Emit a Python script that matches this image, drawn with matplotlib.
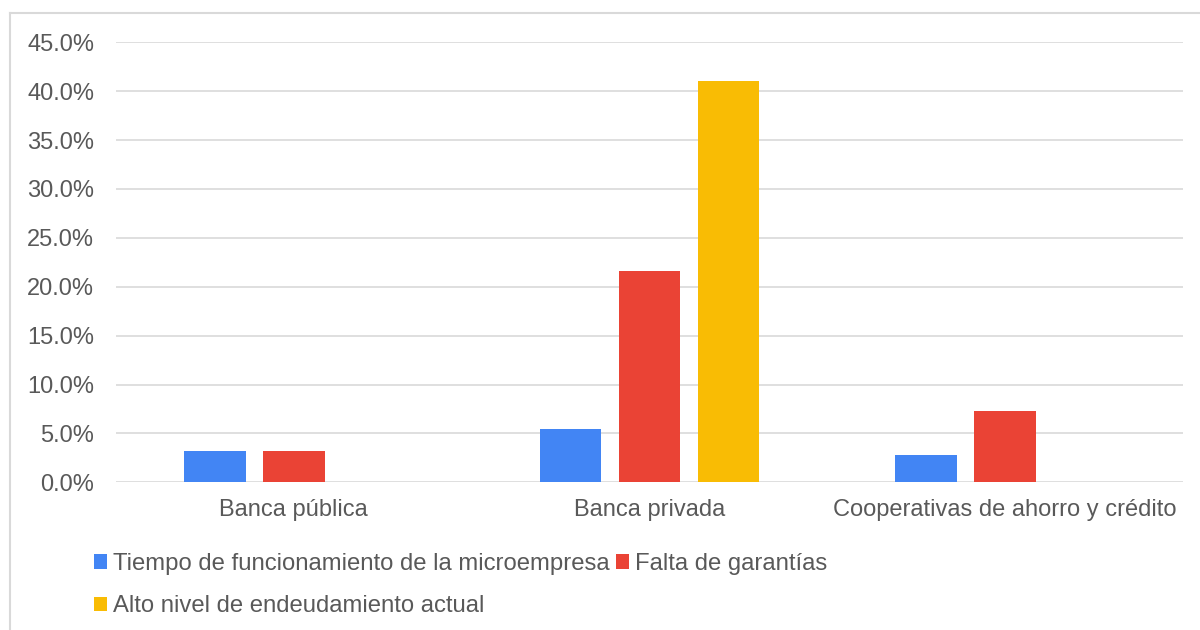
import matplotlib
matplotlib.use("Agg")
import matplotlib.pyplot as plt
from matplotlib.patches import Patch
from matplotlib.lines import Line2D
from matplotlib.ticker import FuncFormatter, MultipleLocator
import numpy as np

categories = ["Banca pública", "Banca privada", "Cooperativas de ahorro y crédito"]
series_names = ["Tiempo de funcionamiento de la microempresa",
                "Falta de garantías",
                "Alto nivel de endeudamiento actual"]
tiempo = [0.032, 0.054, 0.028]
garantias = [0.032, 0.216, 0.073]
endeudamiento = [0.0, 0.410, 0.0]
colors = ["#4285F4", "#EA4335", "#F9BC04"]

plt.rcParams['font.family'] = ['Liberation Sans', 'DejaVu Sans']
text_color = "#595959"
grid_color = "#D9D9D9"

fig = plt.figure(figsize=(12, 6.3), dpi=100)
ax = fig.add_axes([116/1200, 1-482.3/630, (1183-116)/1200, 440/630])

x = np.arange(len(categories))
width = 0.174
offset = 0.222
series = [tiempo, garantias, endeudamiento]
for i, (vals, c) in enumerate(zip(series, colors)):
    ax.bar(x + (i - 1) * offset, vals, width, color=c, label=series_names[i], zorder=3)

ax.set_xlim(-0.5, 2.5)
ax.set_ylim(0, 0.45)
ax.yaxis.set_major_locator(MultipleLocator(0.05))
ax.yaxis.set_major_formatter(FuncFormatter(lambda v, p: f"{v*100:.1f}%"))
ax.set_xticks(x)
ax.set_xticklabels(categories)
ax.tick_params(axis='both', length=0, labelsize=17, colors=text_color)
ax.tick_params(axis='y', pad=15.8)
ax.tick_params(axis='x', pad=12)
ax.grid(axis='y', color=grid_color, linewidth=1.2, zorder=0)
ax.set_axisbelow(True)
for s in ax.spines.values():
    s.set_visible(False)

# outer frame lines (top and left)
fig.add_artist(Line2D([10/1200, 1.0], [1-13/630, 1-13/630], transform=fig.transFigure,
                      color=grid_color, linewidth=1.5))
fig.add_artist(Line2D([10/1200, 10/1200], [0, 1-13/630], transform=fig.transFigure,
                      color=grid_color, linewidth=1.5))

handles = [Patch(facecolor=c, edgecolor='none') for c in colors]
order = [0, 2, 1]
leg = fig.legend([handles[i] for i in order], [series_names[i] for i in order],
                 loc='upper left', bbox_to_anchor=(94/1200, 1-553/630),
                 ncol=2, frameon=False, fontsize=17.2, borderpad=0, borderaxespad=0,
                 handlelength=0.56, handleheight=0.56, handletextpad=0.25,
                 columnspacing=0.25, labelspacing=0.85)
for t in leg.get_texts():
    t.set_color(text_color)

fig.savefig("out.png", dpi=100, facecolor="white")
